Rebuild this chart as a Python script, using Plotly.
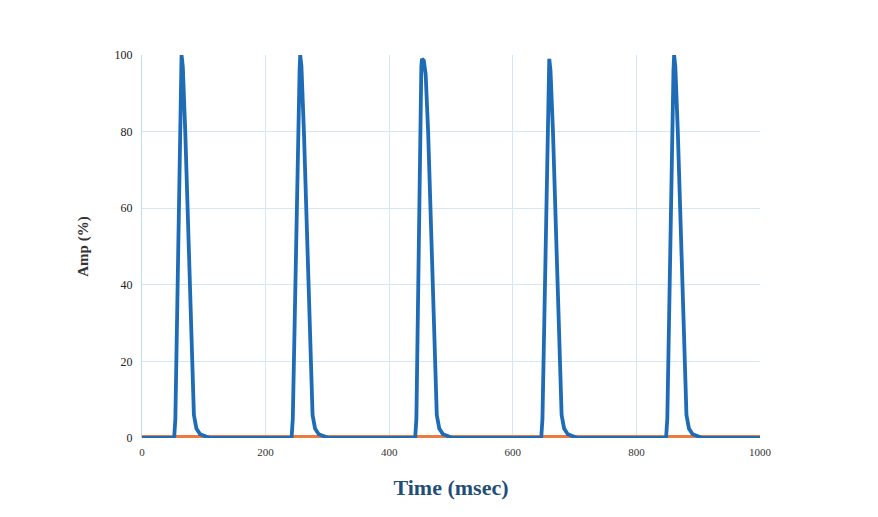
import plotly.graph_objects as go

time_ms = [0,
           52, 54, 63, 64, 66, 70, 84, 88, 94, 110,
           242, 244, 255, 256, 258, 262, 276, 280, 286, 302,
           442, 444, 452, 453, 456, 459, 463, 477, 481, 487, 503,
           646, 648, 658, 659, 661, 665, 679, 683, 689, 705,
           848, 850, 860, 861, 863, 867, 881, 885, 891, 907,
           1000]
amp_pct = [0,
           0, 5, 96, 100, 97, 80, 6, 2.5, 1, 0,
           0, 5, 96, 100, 97, 80, 6, 2.5, 1, 0,
           0, 5, 97, 99, 98.5, 95, 80, 6, 2.5, 1, 0,
           0, 5, 96, 99, 96, 80, 6, 2.5, 1, 0,
           0, 5, 96, 100, 97, 80, 6, 2.5, 1, 0,
           0]

# Orange channel: flat at zero
ref_time_ms = [0, 1000]
ref_amp_pct = [0, 0]

x_ticks = [0, 200, 400, 600, 800, 1000]
y_ticks = [0, 20, 40, 60, 80, 100]

fig = go.Figure()
fig.add_trace(go.Scatter(x=ref_time_ms, y=ref_amp_pct, mode="lines",
                         line=dict(color="#EE7B3E", width=6), showlegend=False))
fig.add_trace(go.Scatter(x=time_ms, y=amp_pct, mode="lines",
                         line=dict(color="#1F6CB6", width=3.8), showlegend=False))

grid = "#D3E8F5"
fig.update_layout(
    width=878, height=517,
    margin=dict(l=134, r=126, t=47, b=87),
    paper_bgcolor="white", plot_bgcolor="white",
    font=dict(family="Liberation Serif", color="#333333"),
    xaxis=dict(range=[0, 1000], tickvals=x_ticks, ticktext=[str(v) for v in x_ticks],
               showgrid=True, gridcolor=grid, gridwidth=1, zeroline=False,
               showline=False, ticks="", ticklabelstandoff=6,
               tickfont=dict(size=11, color="#333333"),
               title=dict(text="<b>Time (msec)</b>", font=dict(size=22, color="#1F4E79",
                                                              family="Liberation Serif"),
                          standoff=22)),
    yaxis=dict(range=[0, 100], tickvals=y_ticks, ticktext=[str(v) for v in y_ticks],
               showgrid=True, gridcolor=grid, gridwidth=1, zeroline=False,
               showline=True, linecolor="#BFD9EE", linewidth=1, ticks="",
               ticklabelstandoff=6,
               tickfont=dict(size=12, color="#222222"),
               title=dict(text="<b>Amp (%)</b>", font=dict(size=15, color="#333333",
                                                          family="Liberation Serif"),
                          standoff=22)),
)
fig.write_html("out.html")
